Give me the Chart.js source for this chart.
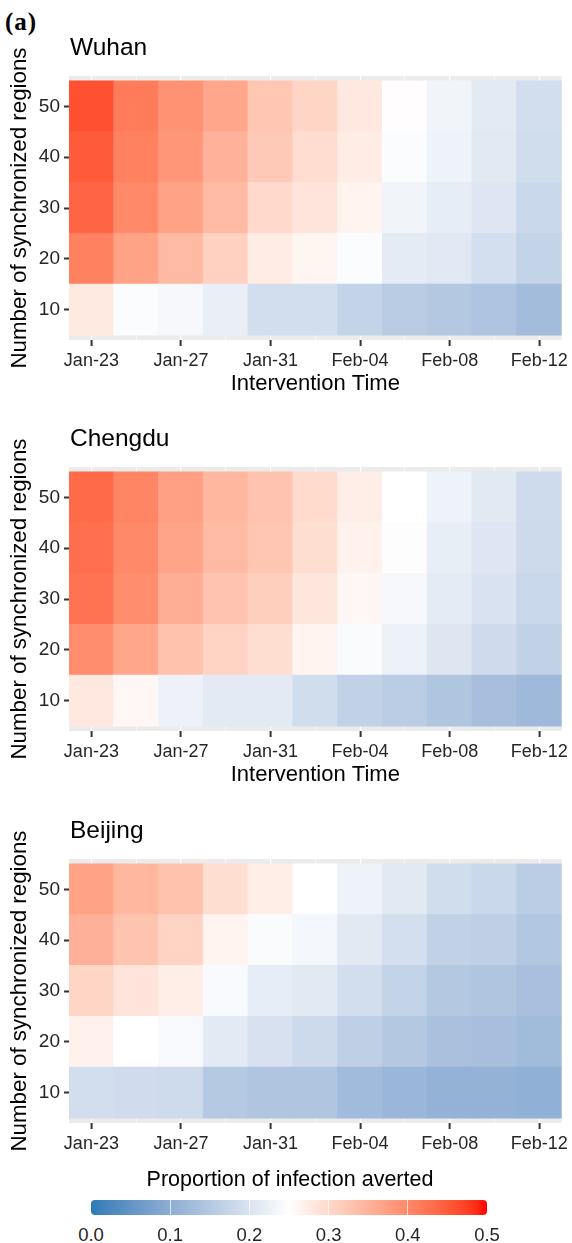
<!DOCTYPE html>
<html>
<head>
<meta charset="utf-8">
<script src="https://cdn.jsdelivr.net/npm/chart.js@4.4.1/dist/chart.umd.min.js"></script>
<style>
  html, body { margin: 0; padding: 0; background: #ffffff; }
  #wrap { position: relative; width: 572px; height: 1243px; overflow: hidden; font-family: "Liberation Sans", Arial, sans-serif; }
  .panel { position: absolute; left: 0; width: 572px; }
  #tag { position: absolute; left: 5px; top: 9px; font: bold 25px "Liberation Serif", "DejaVu Serif", serif; line-height: 1; letter-spacing: 1px; color: #000; }
  #legTitle { position: absolute; left: 0; width: 580px; top: 1169px; text-align: center; font-size: 21.5px; line-height: 1; color: #000; }
  #legBar { position: absolute; left: 91px; top: 1200px; width: 396px; height: 15px; border-radius: 4px; overflow: hidden; }
  .legTick { position: absolute; top: 0; width: 1px; height: 15px; background: rgba(255,255,255,0.7); }
  .legLabel { position: absolute; top: 1226px; width: 60px; text-align: center; font-size: 18.5px; line-height: 1; color: #262626; }
</style>
</head>
<body>
<div id="wrap">
  <div id="tag">(a)</div>
  <div class="panel" style="top:0px;height:400px"><canvas id="c0"></canvas></div>
  <div class="panel" style="top:391px;height:400px"><canvas id="c1"></canvas></div>
  <div class="panel" style="top:783px;height:380px"><canvas id="c2"></canvas></div>
  <div id="legTitle">Proportion of infection averted</div>
  <div id="legBar"></div>
</div>
<script>
// ---------------- data ----------------
const dates = ['Jan-23','Jan-25','Jan-27','Jan-29','Jan-31','Feb-02','Feb-04','Feb-06','Feb-08','Feb-10','Feb-12'];
const regionCounts = [10, 20, 30, 40, 50];
const xTickLabels = ['Jan-23','Jan-27','Jan-31','Feb-04','Feb-08','Feb-12'];
const yTickValues = [10, 20, 30, 40, 50];
const legendTicks = [0.0, 0.1, 0.2, 0.3, 0.4, 0.5];
const cities = ['Wuhan', 'Chengdu', 'Beijing'];

// rows follow regionCounts (10,20,30,40,50); columns follow dates
const wuhanValues = [
  [0.278, 0.245, 0.238, 0.222, 0.190, 0.190, 0.172, 0.158, 0.150, 0.143, 0.128],
  [0.410, 0.370, 0.340, 0.310, 0.275, 0.262, 0.245, 0.215, 0.208, 0.192, 0.170],
  [0.440, 0.400, 0.370, 0.340, 0.300, 0.285, 0.265, 0.232, 0.218, 0.205, 0.180],
  [0.450, 0.410, 0.385, 0.350, 0.320, 0.295, 0.275, 0.245, 0.228, 0.210, 0.188],
  [0.460, 0.415, 0.390, 0.365, 0.325, 0.305, 0.280, 0.252, 0.232, 0.212, 0.190]
];
const chengduValues = [
  [0.280, 0.260, 0.227, 0.213, 0.213, 0.188, 0.168, 0.160, 0.145, 0.133, 0.122],
  [0.395, 0.365, 0.330, 0.307, 0.293, 0.265, 0.243, 0.225, 0.206, 0.186, 0.168],
  [0.425, 0.395, 0.355, 0.328, 0.313, 0.283, 0.260, 0.238, 0.215, 0.198, 0.178],
  [0.430, 0.400, 0.368, 0.340, 0.325, 0.293, 0.268, 0.247, 0.220, 0.205, 0.183],
  [0.435, 0.405, 0.372, 0.343, 0.328, 0.297, 0.273, 0.250, 0.228, 0.210, 0.185]
];
const beijingValues = [
  [0.190, 0.187, 0.185, 0.152, 0.145, 0.144, 0.125, 0.117, 0.108, 0.108, 0.105],
  [0.268, 0.250, 0.240, 0.213, 0.197, 0.183, 0.165, 0.150, 0.138, 0.133, 0.126],
  [0.305, 0.285, 0.273, 0.242, 0.218, 0.210, 0.190, 0.172, 0.150, 0.145, 0.135],
  [0.352, 0.327, 0.307, 0.265, 0.243, 0.235, 0.210, 0.192, 0.168, 0.163, 0.147],
  [0.370, 0.343, 0.330, 0.293, 0.272, 0.250, 0.228, 0.210, 0.188, 0.178, 0.160]
];

// ---------------- colour scale (diverging, Lab interpolation) ----------------
const LOW_COLOR = '#2C7BB6', MID_COLOR = '#FFFFFF', HIGH_COLOR = '#FF0000';
const SCALE_MIN = 0.0, SCALE_MID = 0.25, SCALE_MAX = 0.5;

function toLin(c) { c /= 255; return c <= 0.04045 ? c / 12.92 : Math.pow((c + 0.055) / 1.055, 2.4); }
function fromLin(c) { c = c <= 0.0031308 ? 12.92 * c : 1.055 * Math.pow(c, 1 / 2.4) - 0.055; return Math.round(Math.min(1, Math.max(0, c)) * 255); }
function hexToLab(hex) {
  const r = toLin(parseInt(hex.slice(1, 3), 16)), g = toLin(parseInt(hex.slice(3, 5), 16)), b = toLin(parseInt(hex.slice(5, 7), 16));
  const X = (0.4124 * r + 0.3576 * g + 0.1805 * b) / 0.95047;
  const Y = (0.2126 * r + 0.7152 * g + 0.0722 * b);
  const Z = (0.0193 * r + 0.1192 * g + 0.9505 * b) / 1.08883;
  const f = t => t > 0.008856 ? Math.cbrt(t) : 7.787 * t + 16 / 116;
  const fx = f(X), fy = f(Y), fz = f(Z);
  return [116 * fy - 16, 500 * (fx - fy), 200 * (fy - fz)];
}
function labToRgb(L, a, b) {
  const fy = (L + 16) / 116, fx = fy + a / 500, fz = fy - b / 200;
  const fi = t => t > 0.206893 ? t * t * t : (t - 16 / 116) / 7.787;
  const X = fi(fx) * 0.95047, Y = fi(fy), Z = fi(fz) * 1.08883;
  const r = 3.2406 * X - 1.5372 * Y - 0.4986 * Z;
  const g = -0.9689 * X + 1.8758 * Y + 0.0415 * Z;
  const bb = 0.0557 * X - 0.2040 * Y + 1.0570 * Z;
  return 'rgb(' + fromLin(r) + ',' + fromLin(g) + ',' + fromLin(bb) + ')';
}
const LAB_LOW = hexToLab(LOW_COLOR), LAB_MID = hexToLab(MID_COLOR), LAB_HIGH = hexToLab(HIGH_COLOR);
function valueColor(v) {
  let t, end;
  if (v <= SCALE_MID) { t = (SCALE_MID - v) / (SCALE_MID - SCALE_MIN); end = LAB_LOW; }
  else { t = (v - SCALE_MID) / (SCALE_MAX - SCALE_MID); end = LAB_HIGH; }
  t = Math.min(1, Math.max(0, t));
  return labToRgb(LAB_MID[0] + (end[0] - LAB_MID[0]) * t, LAB_MID[1] + (end[1] - LAB_MID[1]) * t, LAB_MID[2] + (end[2] - LAB_MID[2]) * t);
}

// ---------------- helpers ----------------
const MONTHS = { Jan: 0, Feb: 1 };
function dayOffset(label) {
  const [m, d] = label.split('-');
  return Math.round((Date.UTC(2020, MONTHS[m], +d) - Date.UTC(2020, 0, 23)) / 86400000);
}
function labelForDay(day) {
  const found = dates.find(d => dayOffset(d) === day);
  return found || '';
}
const FONT = '"Liberation Sans", Arial, sans-serif';
const TICK_COLOR = '#262626';

const panelPlugin = {
  id: 'panelBg',
  beforeDraw(chart, args, opts) {
    const { ctx, chartArea: a } = chart;
    ctx.save();
    ctx.fillStyle = '#EBEBEB';
    ctx.fillRect(a.left, a.top, a.right - a.left, a.bottom - a.top);
    ctx.fillStyle = '#000';
    ctx.font = '24.5px ' + FONT;
    ctx.textBaseline = 'alphabetic';
    ctx.textAlign = 'left';
    ctx.fillText(opts.title, a.left + 1, a.top - 21);
    ctx.restore();
  }
};

function isMajor(value) { return xTickLabels.includes(labelForDay(value)); }

function buildChart(canvasId, city, values, showXTitle, xAxisHeight) {
  const datasets = regionCounts.map((rc, r) => ({
    label: city + ' ' + rc,
    data: dates.map((d, c) => ({ x: dayOffset(d), y: [rc - 5, rc + 5] })),
    backgroundColor: values[r].map(valueColor),
    borderWidth: 0,
    borderSkipped: false,
    inflateAmount: 0.5,
    grouped: false,
    barPercentage: 1,
    categoryPercentage: 1
  }));
  return new Chart(document.getElementById(canvasId), {
    type: 'bar',
    data: { datasets },
    options: {
      responsive: true,
      maintainAspectRatio: false,
      animation: false,
      events: [],
      layout: { padding: { top: 76, right: 5, bottom: 0, left: 0 } },
      plugins: {
        legend: { display: false },
        tooltip: { enabled: false },
        title: { display: false },
        panelBg: { title: city }
      },
      scales: {
        x: {
          type: 'linear',
          min: -1, max: 21,
          offset: false,
          afterBuildTicks: s => { s.ticks = dates.map(d => ({ value: dayOffset(d) })); },
          afterFit: s => { s.height = xAxisHeight; },
          ticks: {
            autoSkip: false, maxRotation: 0, minRotation: 0,
            padding: 4, color: TICK_COLOR,
            font: { family: FONT, size: 18 },
            callback: v => (isMajor(v) ? labelForDay(v) : '')
          },
          grid: {
            offset: false,
            color: '#FFFFFF',
            lineWidth: ctx => (ctx.tick && isMajor(ctx.tick.value) ? 1.2 : 0.6),
            drawTicks: true, tickLength: 6, tickWidth: 2,
            tickColor: ctx => (ctx.tick && isMajor(ctx.tick.value) ? '#333333' : 'rgba(0,0,0,0)')
          },
          border: { display: false },
          title: {
            display: showXTitle, text: 'Intervention Time', color: '#000',
            font: { family: FONT, size: 22 }, padding: { top: 0, bottom: 2.4 }
          }
        },
        y: {
          type: 'linear',
          min: 4, max: 56,
          afterBuildTicks: s => { s.ticks = yTickValues.map(v => ({ value: v })); },
          afterFit: s => { s.width = 69; },
          ticks: { padding: 4, color: TICK_COLOR, font: { family: FONT, size: 19 } },
          grid: { drawOnChartArea: false, drawTicks: true, tickLength: 5, tickWidth: 2, tickColor: '#333333' },
          border: { display: false },
          title: {
            display: true, text: 'Number of synchronized regions', color: '#000',
            font: { family: FONT, size: 22.3 }, padding: { top: 6, bottom: 0 }
          }
        }
      }
    },
    plugins: [panelPlugin]
  });
}

buildChart('c0', cities[0], wuhanValues, true, 60);
buildChart('c1', cities[1], chengduValues, true, 60);
buildChart('c2', cities[2], beijingValues, false, 40);

// ---------------- colour bar legend ----------------
(function () {
  const bar = document.getElementById('legBar');
  const stops = [];
  for (let i = 0; i <= 40; i++) {
    const v = SCALE_MIN + (SCALE_MAX - SCALE_MIN) * i / 40;
    stops.push(valueColor(v) + ' ' + (i * 2.5) + '%');
  }
  bar.style.background = 'linear-gradient(to right, ' + stops.join(', ') + ')';
  const wrap = document.getElementById('wrap');
  const barLeft = 91, barWidth = 396;
  legendTicks.forEach(v => {
    const x = barLeft + (v - SCALE_MIN) / (SCALE_MAX - SCALE_MIN) * barWidth;
    if (v > SCALE_MIN && v < SCALE_MAX) {
      const t = document.createElement('div');
      t.className = 'legTick';
      t.style.left = (x - barLeft - 0.5) + 'px';
      bar.appendChild(t);
    }
    const l = document.createElement('div');
    l.className = 'legLabel';
    l.style.left = (x - 30) + 'px';
    l.textContent = v.toFixed(1);
    wrap.appendChild(l);
  });
})();
</script>
</body>
</html>
